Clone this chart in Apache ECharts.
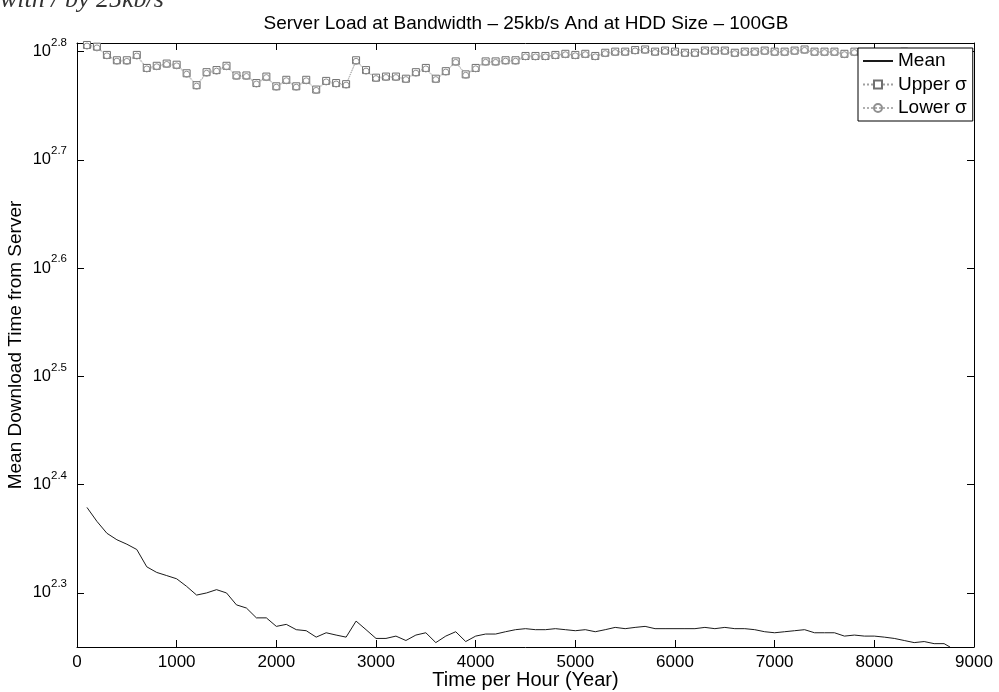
<!DOCTYPE html>
<html>
<head>
<meta charset="utf-8">
<script src="https://cdn.jsdelivr.net/npm/echarts@6/dist/echarts.min.js"></script>
<style>html,body{margin:0;padding:0;background:#fff}#c{width:999px;height:692px}</style>
</head>
<body>
<div id="c"></div>
<script>
// ---- data ----
const hours = [100,200,300,400,500,600,700,800,900,1000,
  1100,1200,1300,1400,1500,1600,1700,1800,1900,2000,
  2100,2200,2300,2400,2500,2600,2700,2800,2900,3000,
  3100,3200,3300,3400,3500,3600,3700,3800,3900,4000,
  4100,4200,4300,4400,4500,4600,4700,4800,4900,5000,
  5100,5200,5300,5400,5500,5600,5700,5800,5900,6000,
  6100,6200,6300,6400,6500,6600,6700,6800,6900,7000,
  7100,7200,7300,7400,7500,7600,7700,7800,7900,8000,
  8100,8200,8300,8400,8500,8600,8700];
const meanHours = [100,200,300,400,500,600,700,800,900,1000,
  1100,1200,1300,1400,1500,1600,1700,1800,1900,2000,
  2100,2200,2300,2400,2500,2600,2700,2800,2900,3000,
  3100,3200,3300,3400,3500,3600,3700,3800,3900,4000,
  4100,4200,4300,4400,4500,4600,4700,4800,4900,5000,
  5100,5200,5300,5400,5500,5600,5700,5800,5900,6000,
  6100,6200,6300,6400,6500,6600,6700,6800,6900,7000,
  7100,7200,7300,7400,7500,7600,7700,7800,7900,8000,
  8100,8200,8300,8400,8500,8600,8700,8760];
const meanTime = [239.3,232.3,226.5,223.4,221.3,218.8,210.9,208.4,207.0,205.6,
  202.3,198.6,199.5,200.9,199.5,194.5,193.2,189.2,189.2,185.8,
  186.6,184.5,184.1,181.6,183.3,182.4,181.6,187.9,184.5,181.1,
  181.1,182.0,180.3,182.4,183.3,179.5,182.0,183.7,179.9,182.0,
  182.8,182.8,183.7,184.5,184.9,184.5,184.5,184.9,184.5,184.1,
  184.5,183.7,184.5,185.4,184.9,185.4,185.8,184.9,184.9,184.9,
  184.9,184.9,185.4,184.9,185.4,184.9,184.9,184.5,183.7,183.3,
  183.7,184.1,184.5,183.3,183.3,183.3,182.0,182.4,182.0,182.0,
  181.6,181.1,180.3,179.5,179.9,179.1,179.1,177.8];
const upperSigma = [640.0,637.7,626.6,619.5,619.5,626.6,609.5,612.3,615.2,613.7,
  602.6,587.5,604.0,606.7,612.3,599.8,599.8,590.2,598.4,586.1,
  594.3,586.1,594.3,582.1,592.9,590.2,588.8,619.5,606.7,597.0,
  598.4,598.4,595.7,604.0,609.5,595.7,605.3,618.0,601.2,609.5,
  618.0,618.0,619.5,619.5,625.2,625.2,625.2,626.6,628.1,626.6,
  628.1,625.2,629.5,631.0,631.0,633.1,633.9,631.0,632.4,631.0,
  629.5,629.5,632.4,632.4,632.4,629.5,631.0,631.0,632.4,631.0,
  631.0,632.4,633.9,631.0,631.0,631.0,628.1,631.0,629.5,630.0,
  630.5,629.5,631.0,630.0,629.0,630.5,630.0];
const lowerSigma = [638.5,636.0,625.4,618.3,618.0,625.1,608.2,611.0,614.0,612.2,
  601.4,586.3,602.6,605.3,611.0,598.6,598.5,589.0,597.1,585.0,
  593.1,585.0,593.0,581.0,591.6,589.0,587.6,618.1,605.4,595.8,
  597.2,597.1,594.5,602.7,608.2,594.5,604.1,616.7,600.0,608.3,
  616.8,616.7,618.3,618.2,624.0,623.9,624.0,625.4,626.8,625.4,
  626.9,624.0,628.3,629.7,629.8,631.9,632.6,629.8,631.2,629.7,
  628.3,628.2,631.2,631.1,631.2,628.3,629.7,629.8,631.1,629.8,
  629.7,631.2,632.6,629.8,629.7,629.8,626.9,629.7,628.3,628.8,
  629.2,628.3,629.7,628.8,627.8,629.2,628.8];
const yLogMin = 2.25, yLogMax = 2.808;   // axis range in powers of ten
const xMin = 0, xMax = 9000, xStep = 1000;
const seriesNames = ['Mean', 'Upper σ', 'Lower σ'];
const titleText = 'Server Load at Bandwidth – 25kb/s And at HDD Size – 100GB';
const xName = 'Time per Hour (Year)';
const yName = 'Mean Download Time from Server';

// ---- chart ----
const FF = '"Liberation Sans", Arial, Helvetica, sans-serif';
const gridRect = {left: 77, top: 43, width: 897, height: 604, outerBoundsMode: 'none', containLabel: false};
const pair = (xs, ys) => xs.map((x, i) => [x, ys[i]]);
const tickStyle = () => ({show: true, inside: true, length: 7, lineStyle: {color: '#000', width: 1}});
const lineAx = () => ({show: true, onZero: false, lineStyle: {color: '#000', width: 1}});

const chart = echarts.init(document.getElementById('c'), null, {renderer: 'canvas'});
chart.setOption({
  animation: false,
  backgroundColor: '#fff',
  title: {
    text: titleText, left: 526, top: 14, textAlign: 'center', padding: 0,
    textStyle: {fontFamily: FF, fontSize: 19, fontWeight: 'normal', color: '#000'}
  },
  graphic: [{
    type: 'text', left: 0, top: -13,
    style: {text: 'with / by 25kb/s', font: 'italic 26px "Liberation Serif", serif', fill: '#333'}
  }],
  legend: {
    data: [
      {name: seriesNames[0], itemStyle: {color: 'rgba(0,0,0,0)', borderWidth: 0}},
      {name: seriesNames[1]},
      {name: seriesNames[2]}
    ],
    orient: 'vertical', left: 858, top: 48,
    padding: [3, 6, 3, 4], itemGap: 3.5, itemWidth: 30, itemHeight: 10,
    backgroundColor: '#fff', borderColor: '#000', borderWidth: 1,
    selectedMode: false, z: 10,
    textStyle: {fontFamily: FF, fontSize: 19, color: '#000', lineHeight: 20}
  },
  grid: [Object.assign({}, gridRect), Object.assign({}, gridRect)],
  xAxis: [
    {type: 'value', gridIndex: 0, position: 'bottom', min: xMin, max: xMax, interval: xStep,
     axisLine: lineAx(), axisTick: tickStyle(), splitLine: {show: false},
     axisLabel: {color: '#000', fontFamily: FF, fontSize: 17, margin: 7, formatter: v => String(v)},
     name: xName, nameLocation: 'middle', nameGap: 23, nameMoveOverlap: false,
     nameTextStyle: {color: '#000', fontFamily: FF, fontSize: 20}},
    {type: 'value', gridIndex: 0, position: 'top', min: xMin, max: xMax, interval: xStep,
     axisLine: lineAx(), axisTick: tickStyle(), splitLine: {show: false}, axisLabel: {show: false}},
    {type: 'value', gridIndex: 1, min: xMin, max: xMax, show: false}
  ],
  yAxis: [
    {type: 'log', logBase: 10, gridIndex: 0, position: 'right',
     min: Math.pow(10, yLogMin), max: Math.pow(10, yLogMax),
     axisLine: lineAx(), axisTick: {show: false},
     axisLabel: {show: false}, splitLine: {show: false}, minorTick: {show: false}},
    {type: 'value', gridIndex: 0, position: 'left', min: yLogMin, max: yLogMax,
     axisLine: lineAx(), axisTick: tickStyle(), splitLine: {show: false},
     axisLabel: {
       margin: 10,
       formatter: v => {
         const r = Math.round(v * 10) / 10;
         if (Math.abs(v - r) > 1e-6) return '';
         return '{b|10}{s|' + r.toFixed(1) + '}';
       },
       rich: {
         b: {fontFamily: FF, fontSize: 16.5, color: '#000', lineHeight: 30},
         s: {fontFamily: FF, fontSize: 11.5, color: '#000', lineHeight: 12, verticalAlign: 'top'}
       }
     },
     name: yName, nameLocation: 'middle', nameGap: 52, nameMoveOverlap: false,
     nameTextStyle: {color: '#000', fontFamily: FF, fontSize: 19}},
    {type: 'value', gridIndex: 1, position: 'right', min: yLogMin, max: yLogMax,
     axisLine: {show: false, onZero: false}, axisTick: tickStyle(), splitLine: {show: false}, axisLabel: {show: false}}
  ],
  series: [
    {name: seriesNames[0], type: 'line', xAxisIndex: 0, yAxisIndex: 0,
     data: pair(meanHours, meanTime), showSymbol: false, symbol: 'none',
     lineStyle: {color: '#1a1a1a', width: 1}, itemStyle: {color: '#1a1a1a'}},
    {name: seriesNames[1], type: 'line', xAxisIndex: 0, yAxisIndex: 0,
     data: pair(hours, upperSigma), symbol: 'rect', symbolSize: 7,
     lineStyle: {color: '#a0a0a0', width: 1, type: 'dotted'},
     itemStyle: {color: '#fff', borderColor: '#707070', borderWidth: 1}},
    {name: seriesNames[2], type: 'line', xAxisIndex: 0, yAxisIndex: 0,
     data: pair(hours, lowerSigma), symbol: 'circle', symbolSize: 6,
     lineStyle: {color: '#b0b0b0', width: 1, type: 'dotted'},
     itemStyle: {color: 'rgba(255,255,255,0)', borderColor: '#909090', borderWidth: 1}}
  ]
});
</script>
</body>
</html>
